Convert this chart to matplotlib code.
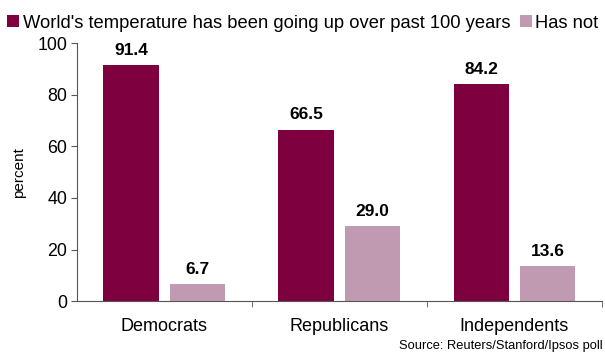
import matplotlib
matplotlib.use("Agg")
import matplotlib.pyplot as plt
import numpy as np

plt.rcParams['font.family'] = ['Liberation Sans', 'DejaVu Sans']

groups = ["Democrats", "Republicans", "Independents"]
going_up = [91.4, 66.5, 84.2]
has_not = [6.7, 29.0, 13.6]
series_names = ["World's temperature has been going up over past 100 years", "Has not"]
dark = "#7F003F"
light = "#C09AB0"

fig = plt.figure(figsize=(6.05, 3.53), dpi=100)
ax = fig.add_axes([0.127, 0.147, 0.868, 0.731])

x = np.arange(len(groups))
w = 0.316
off = 0.19
b1 = ax.bar(x - off, going_up, w, color=dark, label=series_names[0])
b2 = ax.bar(x + off, has_not, w, color=light, label=series_names[1])

for bars, vals in ((b1, going_up), (b2, has_not)):
    for b, v in zip(bars, vals):
        ax.text(b.get_x() + b.get_width() / 2, v + 2.8, f"{v:.1f}", ha='center', va='bottom',
                fontsize=12.5, fontweight='bold')

ax.set_xlim(-0.5, 2.5)
ax.set_ylim(0, 100)
ax.set_yticks(range(0, 101, 20))
ax.set_xticks(x)
ax.set_xticklabels(groups, fontsize=13)
ax.set_xticks([0.5, 1.5, 2.5], minor=True)
ax.tick_params(axis='x', which='major', length=0, pad=12)
ax.tick_params(axis='x', which='minor', length=4, color='#555555')
ax.tick_params(axis='y', labelsize=12.8, length=4, color='#555555', pad=3)
ax.set_ylabel("percent", fontsize=11, labelpad=8)
for s in ('top', 'right'):
    ax.spines[s].set_visible(False)
for s in ('left', 'bottom'):
    ax.spines[s].set_color('#555555')

fig.legend(handles=[b1, b2], loc='upper left', bbox_to_anchor=(-0.006, 0.99), ncol=2, frameon=False,
           fontsize=13.2, handlelength=0.65, handleheight=0.65, handletextpad=0.2, columnspacing=0.5,
           borderaxespad=0.2)

fig.text(0.996, 0.004, "Source: Reuters/Stanford/Ipsos poll", ha='right', va='bottom', fontsize=9.3)

fig.savefig("out.png", dpi=100)
